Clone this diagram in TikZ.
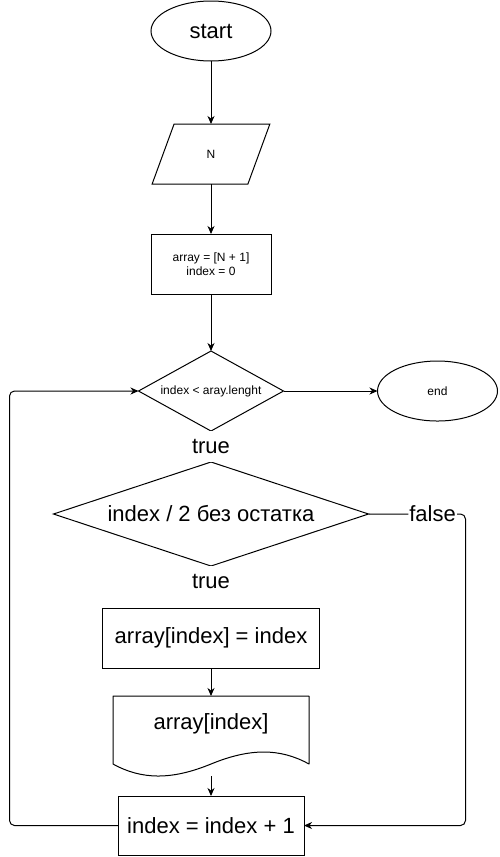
\documentclass[tikz,border=0pt]{standalone}
\usepackage{fontspec}
\setmainfont{Liberation Sans}
\usetikzlibrary{arrows.meta, calc, positioning, shapes.geometric}
\tikzset{%
  small_font/.style={%
    font={\fontsize{12pt}{14pt}\selectfont},%
  },
  big_font/.style={%
    font={\fontsize{22pt}{26pt}\selectfont},%
  },
  block/.style={%
    rectangle,%
    draw,%
    line width=1pt,%
    outer sep=0pt,%
    minimum width=120pt,%
    minimum height=60pt,%
    align=center%
  },
  terminal/.style={%
    ellipse,%
    draw,%
    line width=1pt,%
    outer sep=0pt,%
    minimum width=120pt,%
    minimum height=60pt,%
  },
  io/.style={%
    trapezium,%
    trapezium left angle=73,%
    trapezium right angle=107,%
    trapezium stretches=true,%
    draw,%
    line width=1pt,%
    outer sep=0pt,%
    minimum width=118pt,%
    minimum height=60pt,%
  },
  decision/.style={%
    diamond,%
    draw,%
    line width=1pt,%
    outer sep=0pt,%
    inner sep=0pt,%
  },
  signal/.style={%
    line width=1pt,%
    line join=round,%
  },
  smooth_path/.style={%
    line width=1pt,%
    line join=round,%
    rounded corners=5pt,%
  },
  true_label/.style={%
    big_font,%
    fill=white,%
    inner xsep=1pt,%
    inner ysep=0pt,%
    minimum height=31pt,%
  },
  false_label/.style={%
    big_font,%
    fill=white,%
    inner sep=1pt,%
  },
  arrow/.style={-{Stealth[length=8pt, width=7pt, inset=2.5pt]}},
}
\begin{document}
\begin{tikzpicture}[x=1pt, y=1pt]
  \useasboundingbox (0,0) rectangle (499,-857);
  \node [terminal, big_font] (Start) at (211,-31) {start};
  \node [io, small_font, below=63pt of Start] (Input) {N};
  \node [block, small_font, below=50pt of Input] (Init)
    {array = [N + 1]\\index = 0};
  \node [decision, small_font, below=57pt of Init,
    shape aspect=1.8, minimum width=145pt, minimum height=80pt] (Loop)
    {index < aray.lenght};
  \node [terminal, small_font, right=94pt of Loop] (End) {end};
  \node [decision, big_font, below=31pt of Loop,
    shape aspect=3, minimum width=315pt, minimum height=104pt] (Even)
    {index / 2 без остатка};
  \node [block, big_font, below=42pt of Even, minimum width=217pt] (Assign)
    {array[index] = index};
  \node [big_font, below=28pt of Assign, outer sep=0pt,
    minimum width=196pt, minimum height=56pt] (Print) {array[index]};
  \node [block, big_font, below=44pt of Print, minimum width=186pt,
    minimum height=59pt] (Step)
    {index = index + 1};

  % document outline of the output step
  \coordinate [below=12pt of Print.south east] (WaveR);
  \coordinate [below=12pt of Print.south] (WaveM);
  \coordinate [below=12pt of Print.south west] (WaveL);
  \coordinate [below=24pt of Print.south] (PrintBottom);
  \draw [signal]
    (Print.north west) -- (Print.north east) -- (WaveR)
    .. controls +(-29pt,16pt) and +(39pt,16pt) .. (WaveM)
    .. controls +(-39pt,-16pt) and +(29pt,-16pt) .. (WaveL)
    -- cycle;

  \coordinate [below=31pt of Even.south] (EvenTrue);
  \coordinate [left=129pt of Loop.west] (LoopCorner);
  \coordinate [right=97pt of Even.east] (EvenFalse);

  \draw [arrow, signal] (Start.south) -- (Input.north);
  \draw [arrow, signal] (Input.south) -- (Init.north);
  \draw [arrow, signal] (Init.south) -- (Loop.north);
  \draw [arrow, signal] (Loop.east) -- (End.west);
  \draw [signal]
    (Loop.south) -- node [true_label] {true} (Even.north);
  \draw [signal]
    (Even.south) -- node [true_label] {true} (EvenTrue);
  \draw [arrow, signal] (Assign.south) -- (Print.north);
  \draw [arrow, signal] (PrintBottom) -- (Step.north);
  \draw [arrow, smooth_path]
    (Step.west) -| (LoopCorner) -- (Loop.west);
  \draw [arrow, smooth_path]
    (Even.east)
    -- node [pos=0.66, false_label] {false} (EvenFalse)
    |- (Step.east);
\end{tikzpicture}
\end{document}
